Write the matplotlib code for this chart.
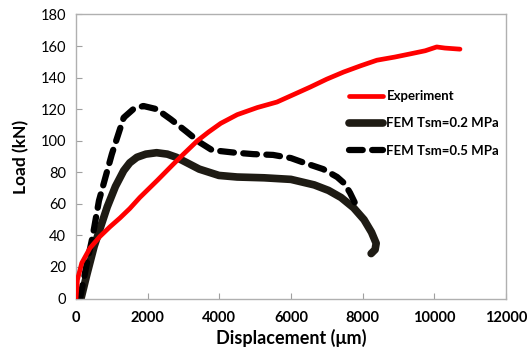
import matplotlib.pyplot as plt

plt.rcParams['font.family'] = ['Lato', 'DejaVu Sans']

# Experiment
exp_x = [0, 40, 160, 390, 670, 950, 1225, 1500, 1780, 2275, 2710, 3000, 3390, 3700,
         4040, 4500, 5060, 5610, 6100, 6540, 7000, 7470, 7950, 8400, 8900, 9330,
         9750, 10070, 10300, 10720]
exp_y = [0, 12, 22.5, 32, 39.4, 45.5, 51, 57, 64, 75, 85, 91.5, 100, 105.5,
         111, 116.5, 121, 124.5, 129.5, 134, 139, 143.5, 147.5, 151, 153, 155,
         157, 159.4, 158.7, 158]

# FEM Tsm=0.2 MPa
fem2_x = [138, 300, 505, 870, 1100, 1330, 1500, 1700, 1950, 2250, 2550, 2800, 3100, 3440,
          3990, 4500, 5250, 6000, 6650, 7050, 7400, 7750, 8040, 8250, 8380, 8350, 8240]
fem2_y = [0, 15, 33, 58, 71, 81, 86, 89.5, 91.5, 92.4, 91.5, 89.5, 86, 82,
          78, 77, 76.5, 75.5, 72, 68.5, 64, 57.5, 50, 42, 35, 31, 28.5]

# FEM Tsm=0.5 MPa
fem5_x = [110, 300, 460, 640, 1000, 1330, 1600, 1880, 2250, 2650, 3070, 3450, 3800,
          4400, 4950, 5500, 6000, 6370, 6900, 7290, 7490, 7650, 7800]
fem5_y = [0, 22, 39, 62, 91.5, 114.6, 120, 122, 120, 113.5, 106, 99, 94,
          92.5, 91.5, 91, 89, 86, 82, 77, 73, 67, 60]

fig = plt.figure(figsize=(5.28, 3.61), dpi=100)
ax = fig.add_axes([0.144, 0.173, 0.814, 0.787])

ax.plot(exp_x, exp_y, color='#ff0000', lw=3.4, solid_capstyle='round',
        solid_joinstyle='round', label='Experiment', zorder=3)
ax.plot(fem2_x, fem2_y, color='#1e1b14', lw=5.5, solid_capstyle='round',
        solid_joinstyle='round', label='FEM Tsm=0.2 MPa', zorder=2)
ax.plot(fem5_x, fem5_y, color='#000000', lw=4.5, dashes=(2.2, 1.5),
        dash_capstyle='round', label='FEM Tsm=0.5 MPa', zorder=2)

ax.set_xlim(0, 12000)
ax.set_ylim(0, 180)
ax.set_xticks(range(0, 12001, 2000))
ax.set_yticks(range(0, 181, 20))
ax.tick_params(direction='in', length=4, color='#a0a0a0', labelsize=10.5)
for lbl in ax.get_xticklabels():
    lbl.set_fontweight('bold')
ax.tick_params(axis='x', pad=9)
ax.tick_params(axis='y', pad=7)
for s in ax.spines.values():
    s.set_color('#b0b0b0')
    s.set_linewidth(1)

ax.set_xlabel('Displacement (\u03bcm)', fontsize=13, fontweight='bold', labelpad=3)
ax.set_ylabel('Load (kN)', fontsize=12.5, fontweight='bold', labelpad=8)

ax.legend(loc='upper left', bbox_to_anchor=(0.624, 0.752), frameon=False,
          prop={'weight': 'bold', 'size': 9.5}, handlelength=2.55,
          handletextpad=0.25, labelspacing=1.15, borderaxespad=0)

fig.savefig('out.png', dpi=100)
